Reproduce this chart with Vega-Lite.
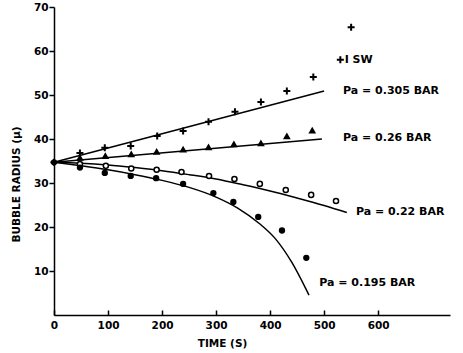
{
  "$schema": "https://vega.github.io/schema/vega-lite/v6.json",
  "width": 396,
  "height": 308,
  "autosize": {"type": "none"},
  "padding": {"left": 54, "top": 7, "right": 13, "bottom": 38},
  "background": "white",
  "config": {
    "view": {"stroke": null},
    "font": "DejaVu Sans",
    "axis": {"grid": false, "domainColor": "black", "tickColor": "black", "labelColor": "black", "titleColor": "black", "labelFont": "DejaVu Sans", "titleFont": "DejaVu Sans", "labelFontWeight": "bold", "titleFontWeight": "bold", "labelFontSize": 10.5, "titleFontSize": 10.5, "domainWidth": 1.5, "tickWidth": 1.5}
  },
  "datasets": {
    "points": [
      {"series": "0.305", "t": 0, "r": 34.7},
      {"series": "0.305", "t": 48, "r": 36.8},
      {"series": "0.305", "t": 94, "r": 38.0},
      {"series": "0.305", "t": 142, "r": 38.4},
      {"series": "0.305", "t": 191, "r": 40.7},
      {"series": "0.305", "t": 239, "r": 41.8},
      {"series": "0.305", "t": 286, "r": 43.9},
      {"series": "0.305", "t": 335, "r": 46.2},
      {"series": "0.305", "t": 383, "r": 48.4},
      {"series": "0.305", "t": 431, "r": 50.9},
      {"series": "0.305", "t": 480, "r": 54.1},
      {"series": "0.305", "t": 530, "r": 58.0},
      {"series": "0.305", "t": 550, "r": 65.4},
      {"series": "0.26", "t": 48, "r": 35.8},
      {"series": "0.26", "t": 95, "r": 36.2},
      {"series": "0.26", "t": 143, "r": 36.6},
      {"series": "0.26", "t": 190, "r": 37.2},
      {"series": "0.26", "t": 239, "r": 37.7},
      {"series": "0.26", "t": 286, "r": 38.2},
      {"series": "0.26", "t": 333, "r": 38.9},
      {"series": "0.26", "t": 383, "r": 39.1},
      {"series": "0.26", "t": 431, "r": 40.7},
      {"series": "0.26", "t": 478, "r": 42.0},
      {"series": "0.22", "t": 48, "r": 34.3},
      {"series": "0.22", "t": 96, "r": 33.9},
      {"series": "0.22", "t": 143, "r": 33.3},
      {"series": "0.22", "t": 190, "r": 33.0},
      {"series": "0.22", "t": 236, "r": 32.5},
      {"series": "0.22", "t": 287, "r": 31.6},
      {"series": "0.22", "t": 334, "r": 30.9},
      {"series": "0.22", "t": 381, "r": 29.8},
      {"series": "0.22", "t": 429, "r": 28.4},
      {"series": "0.22", "t": 476, "r": 27.3},
      {"series": "0.22", "t": 522, "r": 25.9},
      {"series": "0.195", "t": 0, "r": 34.7},
      {"series": "0.195", "t": 48, "r": 33.5},
      {"series": "0.195", "t": 94, "r": 32.3},
      {"series": "0.195", "t": 142, "r": 31.6},
      {"series": "0.195", "t": 189, "r": 31.1},
      {"series": "0.195", "t": 239, "r": 29.8},
      {"series": "0.195", "t": 295, "r": 27.7},
      {"series": "0.195", "t": 332, "r": 25.7},
      {"series": "0.195", "t": 378, "r": 22.3},
      {"series": "0.195", "t": 422, "r": 19.2},
      {"series": "0.195", "t": 467, "r": 13.0}
    ],
    "curves": [
      {"series": "0.305", "t": 0, "r": 34.7},
      {"series": "0.305", "t": 500, "r": 50.9},
      {"series": "0.26", "t": 0, "r": 34.7},
      {"series": "0.26", "t": 496, "r": 40.0},
      {"series": "0.22", "t": 0, "r": 34.7},
      {"series": "0.22", "t": 50, "r": 34.5},
      {"series": "0.22", "t": 100, "r": 34.1},
      {"series": "0.22", "t": 150, "r": 33.5},
      {"series": "0.22", "t": 200, "r": 32.8},
      {"series": "0.22", "t": 250, "r": 31.9},
      {"series": "0.22", "t": 300, "r": 30.9},
      {"series": "0.22", "t": 350, "r": 29.6},
      {"series": "0.22", "t": 400, "r": 28.2},
      {"series": "0.22", "t": 450, "r": 26.6},
      {"series": "0.22", "t": 500, "r": 24.9},
      {"series": "0.22", "t": 542, "r": 23.3},
      {"series": "0.195", "t": 0, "r": 34.7},
      {"series": "0.195", "t": 50, "r": 33.9},
      {"series": "0.195", "t": 100, "r": 33.0},
      {"series": "0.195", "t": 150, "r": 31.9},
      {"series": "0.195", "t": 200, "r": 30.6},
      {"series": "0.195", "t": 250, "r": 29.0},
      {"series": "0.195", "t": 300, "r": 26.8},
      {"series": "0.195", "t": 340, "r": 24.3},
      {"series": "0.195", "t": 380, "r": 20.8},
      {"series": "0.195", "t": 410, "r": 17.3},
      {"series": "0.195", "t": 440, "r": 12.0},
      {"series": "0.195", "t": 472, "r": 4.5}
    ],
    "labels": [
      {"t": 535, "r": 50.9, "text": "Pa = 0.305 BAR"},
      {"t": 535, "r": 40.2, "text": "Pa = 0.26 BAR"},
      {"t": 559, "r": 23.4, "text": "Pa = 0.22 BAR"},
      {"t": 491, "r": 7.3, "text": "Pa = 0.195 BAR"},
      {"t": 538, "r": 58.0, "text": "I  SW"}
    ]
  },
  "encoding": {
    "x": {"field": "t", "type": "quantitative", "scale": {"domain": [0, 733], "nice": false, "zero": false},
      "axis": {"values": [0, 100, 200, 300, 400, 500, 600], "tickSize": -5, "labelPadding": 10, "title": "TIME  (S)", "titleX": 168, "titleY": 28, "titleAlign": "center", "titleBaseline": "middle", "labelFlush": false}},
    "y": {"field": "r", "type": "quantitative", "scale": {"domain": [0, 70], "nice": false},
      "axis": {"values": [10, 20, 30, 40, 50, 60, 70], "tickSize": 5, "labelPadding": 1, "title": "BUBBLE  RADIUS  (μ)", "titleX": -38, "titleY": 177, "titleAlign": "center", "titleBaseline": "middle", "labelFlush": false}}
  },
  "layer": [
    {
      "data": {"name": "curves"},
      "mark": {"type": "line", "color": "black", "strokeWidth": 1.5, "interpolate": "monotone"},
      "encoding": {"detail": {"field": "series"}}
    },
    {
      "data": {"name": "points"},
      "transform": [{"filter": "datum.series === '0.305'"}],
      "mark": {"type": "point", "shape": "M-1,0L1,0M0,-1L0,1", "filled": false, "color": "black", "strokeWidth": 2, "size": 49, "opacity": 1}
    },
    {
      "data": {"name": "points"},
      "transform": [{"filter": "datum.series === '0.26'"}],
      "mark": {"type": "point", "shape": "triangle-up", "filled": true, "color": "black", "size": 60, "opacity": 1}
    },
    {
      "data": {"name": "points"},
      "transform": [{"filter": "datum.series === '0.22'"}],
      "mark": {"type": "point", "shape": "circle", "filled": false, "fill": "white", "color": "black", "strokeWidth": 1.5, "size": 26, "opacity": 1}
    },
    {
      "data": {"name": "points"},
      "transform": [{"filter": "datum.series === '0.195'"}],
      "mark": {"type": "point", "shape": "circle", "filled": true, "color": "black", "size": 40, "opacity": 1}
    },
    {
      "data": {"name": "labels"},
      "mark": {"type": "text", "align": "left", "baseline": "middle", "font": "DejaVu Sans", "fontWeight": "bold", "fontSize": 11, "color": "black"},
      "encoding": {"text": {"field": "text"}}
    }
  ]
}
